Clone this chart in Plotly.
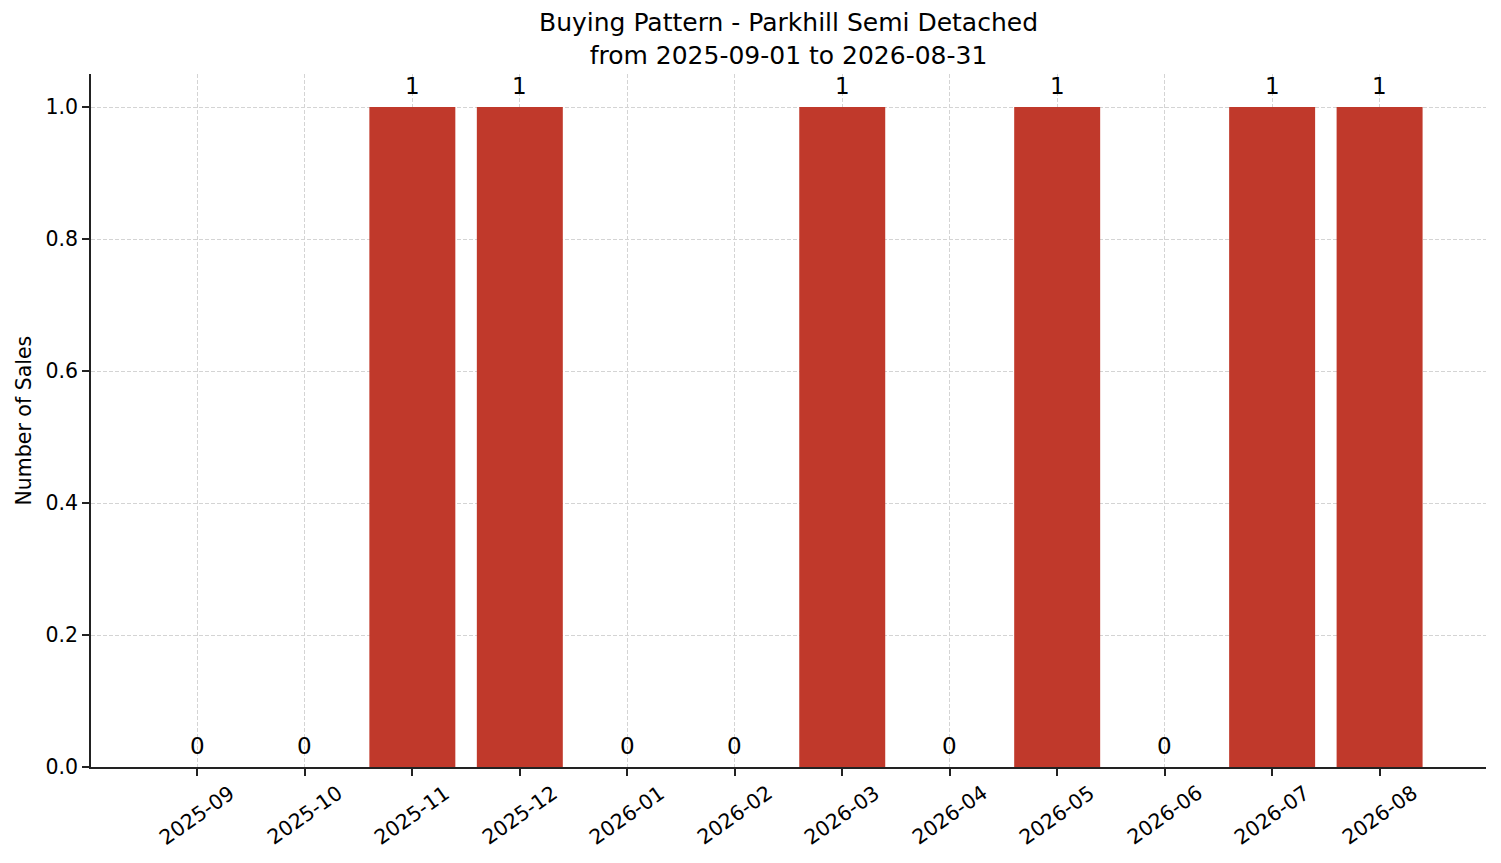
import plotly.graph_objects as go

# Monthly sales counts
months = ['2025-09', '2025-10', '2025-11', '2025-12', '2026-01', '2026-02',
          '2026-03', '2026-04', '2026-05', '2026-06', '2026-07', '2026-08']
sales = [0, 0, 1, 1, 0, 0, 1, 0, 1, 0, 1, 1]
y_ticks = [0.0, 0.2, 0.4, 0.6, 0.8, 1.0]

title_text = 'Buying Pattern - Parkhill Semi Detached<br>from 2025-09-01 to 2026-08-31'

font_family = 'DejaVu Sans'
bar_color = '#c0392b'
axis_color = '#222222'
grid_color = '#d4d4d4'

fig = go.Figure()

fig.add_trace(go.Bar(
    x=list(range(len(months))), y=sales,
    width=0.8, marker=dict(color=bar_color, line=dict(width=0)),
    hoverinfo='skip'
))

# value labels above each bar
for i, v in enumerate(sales):
    fig.add_annotation(
        x=i, y=v, xref='x', yref='y',
        text=str(v), showarrow=False,
        xanchor='center', yanchor='middle', yshift=21,
        font=dict(family=font_family, size=23, color='black')
    )

# rotated month labels, centred under each tick (matplotlib style)
for i, m in enumerate(months):
    fig.add_annotation(
        x=i, y=0, xref='x', yref='paper',
        text=m, showarrow=False, textangle=-35,
        xanchor='center', yanchor='middle', yshift=-48,
        font=dict(family=font_family, size=20.5, color='black')
    )

# y axis label
fig.add_annotation(
    x=0, y=0.5, xref='paper', yref='paper',
    text='Number of Sales', showarrow=False, textangle=-90,
    xanchor='center', yanchor='middle', xshift=-68,
    font=dict(family=font_family, size=20.5, color='black')
)

# two-line title
fig.add_annotation(
    x=0.5, y=1, xref='paper', yref='paper',
    text=title_text, showarrow=False, align='center',
    xanchor='center', yanchor='middle', yshift=35,
    font=dict(family=font_family, size=25, color='black')
)

fig.update_layout(
    width=1501, height=863,
    margin=dict(l=91, r=15, t=74, b=96),
    plot_bgcolor='white', paper_bgcolor='white',
    showlegend=False,
    font=dict(family=font_family, color='black'),
)

fig.update_xaxes(
    range=[-0.99, 11.99],
    tickmode='array', tickvals=list(range(len(months))), ticktext=[''] * len(months),
    ticks='outside', ticklen=7, tickwidth=1.6, tickcolor=axis_color,
    showline=True, linecolor=axis_color, linewidth=1.7,
    showgrid=True, gridcolor=grid_color, gridwidth=1, griddash='4px,2px',
    zeroline=False, layer='above traces'
)

fig.update_yaxes(
    range=[0, 1.05],
    tickmode='array', tickvals=y_ticks, ticktext=[f'{v:.1f}' for v in y_ticks],
    ticks='outside', ticklen=7, tickwidth=1.6, tickcolor=axis_color,
    tickfont=dict(family=font_family, size=20.5, color='black'),
    showline=True, linecolor=axis_color, linewidth=1.7,
    showgrid=True, gridcolor=grid_color, gridwidth=1, griddash='4px,2px',
    zeroline=False, layer='above traces'
)

fig.write_html('out.html', config={'displayModeBar': False},
               post_script="document.body.style.margin='0px';")
